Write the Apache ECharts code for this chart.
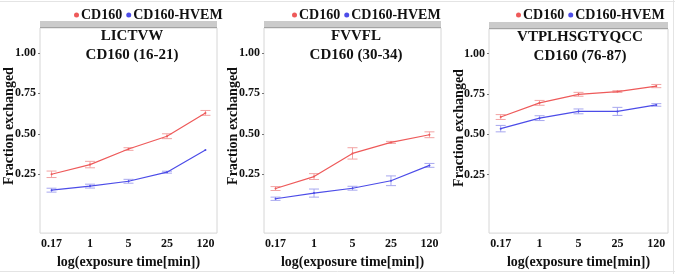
<!DOCTYPE html>
<html>
<head>
<meta charset="utf-8">
<script src="https://cdn.jsdelivr.net/npm/echarts@6/dist/echarts.min.js"></script>
<style>
  html, body { margin: 0; padding: 0; background: #fff; }
  #chart { width: 675px; height: 274px; }
</style>
</head>
<body>
<div id="chart"></div>
<script>
// exposure times (categories on x)
const categories = ['0.17', '1', '5', '25', '120'];
const yTicks = [0.25, 0.5, 0.75, 1.0];

const panelTitles = ['LICTVW\nCD160 (16-21)', 'FVVFL\nCD160 (30-34)', 'VTPLHSGTYQCC\nCD160 (76-87)'];

// panel 1: LICTVW
const p1Cd160 = [0.25, 0.31, 0.406, 0.485, 0.629];
const p1Cd160Err = [0.02, 0.02, 0.008, 0.015, 0.015];
const p1Hvem = [0.152, 0.177, 0.207, 0.263, 0.40];
const p1HvemErr = [0.012, 0.012, 0.012, 0.006, 0];

// panel 2: FVVFL
const p2Cd160 = [0.162, 0.236, 0.379, 0.447, 0.494];
const p2Cd160Err = [0.012, 0.018, 0.035, 0.006, 0.018];
const p2Hvem = [0.099, 0.134, 0.164, 0.21, 0.305];
const p2HvemErr = [0.01, 0.025, 0.012, 0.03, 0.012];

// panel 3: VTPLHSGTYQCC
const p3Cd160 = [0.607, 0.695, 0.748, 0.765, 0.799];
const p3Cd160Err = [0.015, 0.015, 0.012, 0.005, 0.01];
const p3Hvem = [0.535, 0.6, 0.642, 0.642, 0.682];
const p3HvemErr = [0.02, 0.015, 0.015, 0.025, 0.008];

const RED = '#ee5a5a';
const BLUE = '#4c4ce8';
const RED_ERR = '#f2a3a3';
const BLUE_ERR = '#a7a7ef';
const FONT = '"Liberation Serif", "DejaVu Serif", serif';

const chart = echarts.init(document.getElementById('chart'));

const grids = [
  { left: 40, top: 28, width: 177, height: 215 },
  { left: 264, top: 28, width: 177, height: 216 },
  { left: 489, top: 29, width: 179, height: 216 }
];
const legendLeft = [69, 287, 511];
const yNameX = [9, 233, 459];
const titleX = [132, 356, 580];

const panels = [
  [p1Cd160, p1Cd160Err, p1Hvem, p1HvemErr],
  [p2Cd160, p2Cd160Err, p2Hvem, p2HvemErr],
  [p3Cd160, p3Cd160Err, p3Hvem, p3HvemErr]
];

const pairs = (vals) => vals.map((v, i) => [i, v]);
const triples = (vals, errs) => vals.map((v, i) => [i, v, errs[i]]);

function errRender(color) {
  return function (params, api) {
    const x = api.value(0), y = api.value(1), e = api.value(2);
    if (!e) return null;
    const top = api.coord([x, y + e]);
    const bot = api.coord([x, y - e]);
    const hw = 5;
    const st = { stroke: color, lineWidth: 1 };
    return {
      type: 'group',
      children: [
        { type: 'line', shape: { x1: top[0], y1: top[1], x2: bot[0], y2: bot[1] }, style: st },
        { type: 'line', shape: { x1: top[0] - hw, y1: top[1], x2: top[0] + hw, y2: top[1] }, style: st },
        { type: 'line', shape: { x1: bot[0] - hw, y1: bot[1], x2: bot[0] + hw, y2: bot[1] }, style: st }
      ]
    };
  };
}

let xAxes = [], yAxes = [], series = [], legends = [], graphics = [];

grids.forEach((g, k) => {
  Object.assign(g, { show: true, borderColor: '#d6d6d6', borderWidth: 1, backgroundColor: '#fff' });

  xAxes.push({
    type: 'value', gridIndex: k, min: -0.3, max: 4.3,
    name: 'log(exposure time[min])', nameLocation: 'middle', nameGap: 18,
    nameTextStyle: { fontFamily: FONT, fontWeight: 'bold', fontSize: 14, color: '#111' },
    axisLine: { show: false, onZero: false }, axisTick: { show: false }, splitLine: { show: false },
    axisLabel: {
      customValues: [0, 1, 2, 3, 4], margin: 5,
      formatter: (v) => categories[v],
      fontFamily: FONT, fontWeight: 'bold', fontSize: 12, color: '#111'
    }
  });

  yAxes.push({
    type: 'value', gridIndex: k, min: -0.113, max: 1.153,
    axisLine: { show: false, onZero: false },
    axisTick: { show: true, customValues: yTicks, length: 2, lineStyle: { color: '#777' } },
    splitLine: { show: false },
    axisLabel: {
      customValues: yTicks, margin: 4,
      formatter: (v) => v.toFixed(2),
      fontFamily: FONT, fontWeight: 'bold', fontSize: 12, color: '#111'
    }
  });

  const [a, ae, b, be] = panels[k];
  series.push(
    { name: 'CD160', type: 'line', xAxisIndex: k, yAxisIndex: k, data: pairs(a),
      color: RED, symbol: 'circle', symbolSize: 2, lineStyle: { width: 1.2 } },
    { name: 'CD160-HVEM', type: 'line', xAxisIndex: k, yAxisIndex: k, data: pairs(b),
      color: BLUE, symbol: 'circle', symbolSize: 2, lineStyle: { width: 1.2 } },
    { type: 'custom', xAxisIndex: k, yAxisIndex: k, data: triples(a, ae),
      renderItem: errRender(RED_ERR), silent: true },
    { type: 'custom', xAxisIndex: k, yAxisIndex: k, data: triples(b, be),
      renderItem: errRender(BLUE_ERR), silent: true }
  );

  legends.push({
    left: legendLeft[k], top: 3, icon: 'circle', itemWidth: 5, itemHeight: 5, itemGap: 4,
    data: ['CD160', 'CD160-HVEM'],
    textStyle: { fontFamily: FONT, fontWeight: 'bold', fontSize: 14, color: '#111', padding: [0, 0, 0, -3] }
  });

  // gray strip on top of each plot
  graphics.push({
    type: 'rect', shape: { x: g.left, y: g.top - 7, width: g.width, height: 7 },
    style: { fill: '#cbcbcb', stroke: null }
  });
  graphics.push({
    type: 'line', shape: { x1: g.left, y1: g.top - 0.5, x2: g.left + g.width, y2: g.top - 0.5 },
    style: { stroke: '#a3a3a3', lineWidth: 1 }
  });
  graphics.push({
    type: 'text', x: titleX[k], y: g.top - 1,
    style: {
      text: panelTitles[k], align: 'center', verticalAlign: 'top', lineHeight: 19,
      font: 'bold 15px ' + FONT, fill: '#111'
    }
  });
  graphics.push({
    type: 'text', x: yNameX[k], y: 126 + (k === 2 ? 2 : 0), rotation: Math.PI / 2,
    style: {
      text: 'Fraction exchanged', align: 'center', verticalAlign: 'middle',
      font: 'bold 14px ' + FONT, fill: '#111'
    }
  });
});

// faint frame lines
graphics.push(
  { type: 'line', shape: { x1: 0, y1: 1.5, x2: 675, y2: 1.5 }, style: { stroke: '#e4e4e4', lineWidth: 1 } },
  { type: 'line', shape: { x1: 0, y1: 271.5, x2: 675, y2: 271.5 }, style: { stroke: '#e4e4e4', lineWidth: 1 } },
  { type: 'line', shape: { x1: 673.5, y1: 0, x2: 673.5, y2: 274 }, style: { stroke: '#e4e4e4', lineWidth: 1 } }
);

chart.setOption({
  animation: false,
  backgroundColor: '#fff',
  grid: grids,
  xAxis: xAxes,
  yAxis: yAxes,
  legend: legends,
  series: series,
  graphic: graphics
});
</script>
</body>
</html>
